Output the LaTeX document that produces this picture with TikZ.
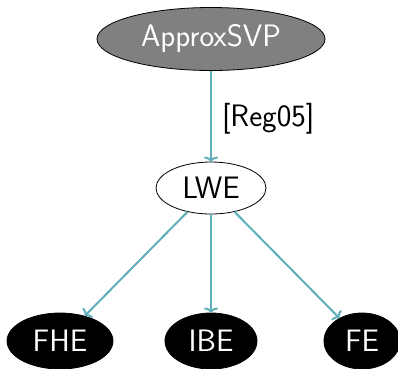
\documentclass[tikz,border=0pt]{standalone}
\usepackage{fontspec}
\usetikzlibrary{shapes.geometric,arrows.meta}
\definecolor{edgeteal}{RGB}{95,175,185}
\definecolor{rootgray}{RGB}{128,128,128}
\tikzset{
  labelfont/.style={font=\sffamily\fontsize{31}{37}\selectfont},
  base/.style={ellipse, inner sep=0pt, line width=0.8pt, labelfont},
  rootnode/.style={base, draw=black, fill=rootgray, text=white},
  midnode/.style={base, draw=black, fill=white, text=black},
  leafnode/.style={base, draw=black, fill=black, text=white},
  reduce/.style={draw=edgeteal, line width=2pt, -{To[length=5pt,width=14pt]}},
}
\begin{document}
\begin{tikzpicture}[x=1pt, y=-1pt]
  \useasboundingbox (0,0) rectangle (398,368);
  \node[rootnode, minimum width=228pt, minimum height=63pt] (svp) at (211,39) {ApproxSVP};
  \node[midnode, minimum width=110pt, minimum height=52pt] (lwe) at (211,188) {LWE};
  \node[leafnode, minimum width=106pt, minimum height=56pt] (fhe) at (60,341) {FHE};
  \node[leafnode, minimum width=92pt, minimum height=56pt] (ibe) at (211,341) {IBE};
  \node[leafnode, minimum width=76pt, minimum height=56pt] (fe) at (362,341) {FE};
  \draw[reduce] (svp) -- node[right, labelfont, inner sep=0pt, xshift=10pt, yshift=-2pt] (ref) {[Reg05]} (lwe);
  \draw[reduce] (lwe) -- (fhe);
  \draw[reduce] (lwe) -- (ibe);
  \draw[reduce] (lwe) -- (fe);
\end{tikzpicture}
\end{document}
